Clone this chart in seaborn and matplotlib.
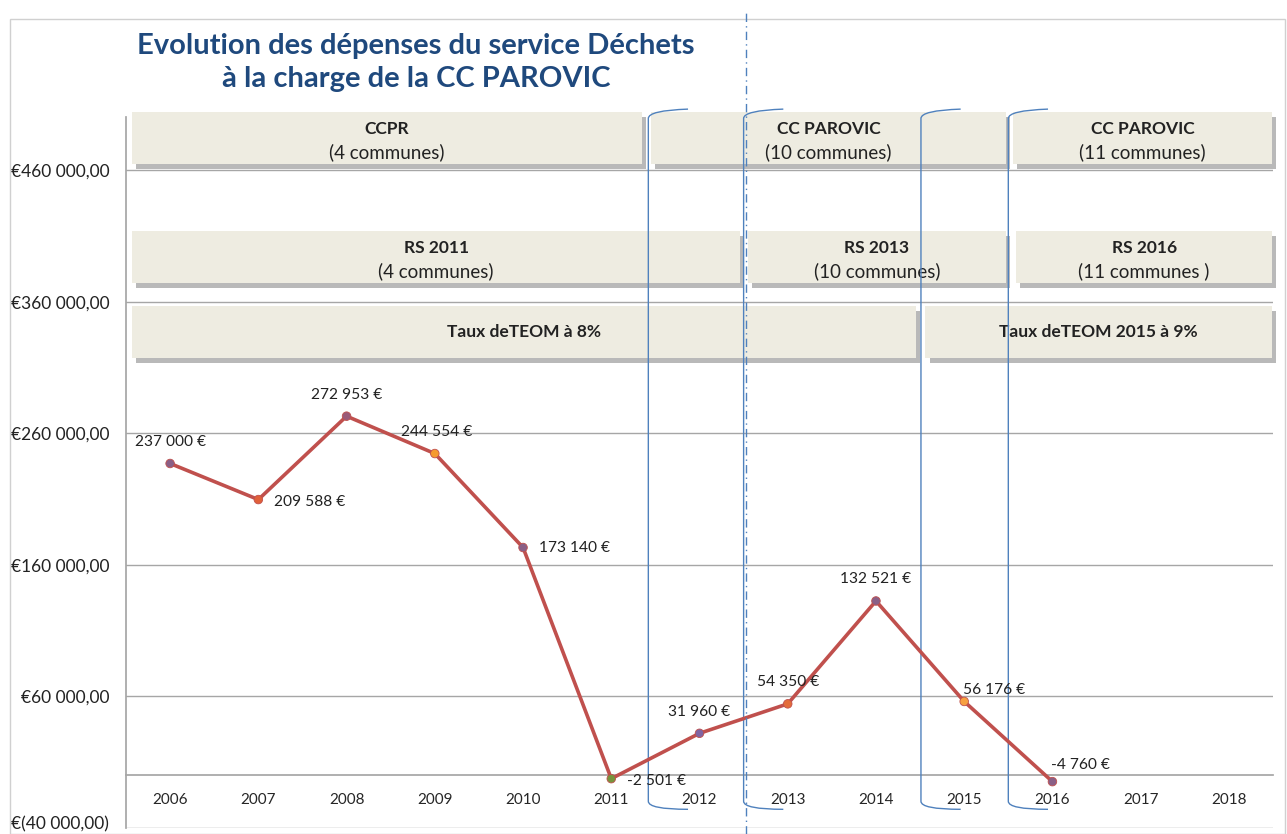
import numpy as np
import pandas as pd
import seaborn as sns
import matplotlib.pyplot as plt
from matplotlib.patches import Rectangle, PathPatch
from matplotlib.path import Path
from matplotlib.lines import Line2D
import matplotlib.patheffects as pe
import matplotlib.transforms as mtransforms

# --- data ---
years = [str(y) for y in range(2006, 2019)]
values = [237000, 209588, 272953, 244554, 173140, -2501, 31960, 54350, 132521, 56176, -4760]
point_labels = ["237 000 €", "209 588 €", "272 953 €", "244 554 €", "173 140 €", "-2 501 €",
                "31 960 €", "54 350 €", "132 521 €", "56 176 €", "-4 760 €"]
ytick_values = [-40000, 60000, 160000, 260000, 360000, 460000]
ytick_labels = ["€(40 000,00)", "€60 000,00", "€160 000,00", "€260 000,00", "€360 000,00", "€460 000,00"]

row1_titles = ["CCPR", "CC PAROVIC", "CC PAROVIC"]
row1_subs = ["(4 communes)", "(10 communes)", "(11 communes)"]
row2_titles = ["RS 2011", "RS 2013", "RS 2016"]
row2_subs = ["(4 communes)", "(10 communes)", "(11 communes )"]
row3_titles = ["Taux deTEOM à 8%", "Taux deTEOM 2015 à 9%"]

# --- styling ---
line_color = "#C0504D"
marker_colors = ["#8A5F86", "#E0603A", "#9A5A78", "#F59A2E", "#8A5F86", "#77933C",
                 "#8064A2", "#E36C3A", "#8A5F86", "#F7A040", "#8A5F86"]
# label offsets in pixels (dx, dy, ha)
label_offsets = [(0, 21, "center"), (16, -2, "left"), (0, 21, "center"), (2, 22, "center"),
                 (16, 0, "left"), (16, -2, "left"), (0, 21, "center"), (0, 22, "center"),
                 (0, 22, "center"), (-1, 11, "left"), (-1, 17, "left")]
box_face = "#EEECE1"
blue = "#4F81BD"
grid_c = "#A6A6A6"
txt_c = "#222222"

sns.set_theme(style="white")
plt.rcParams["font.family"] = ["Lato", "DejaVu Sans"]

fig = plt.figure(figsize=(12.87, 8.34), dpi=100)
ax = fig.add_axes([126 / 1287, 6 / 834, 1147 / 1287, 710.6 / 834])

df = pd.DataFrame({"pos": np.arange(len(values)), "value": values})
sns.lineplot(data=df, x="pos", y="value", color=line_color, lw=2.6, ax=ax, zorder=4)
sns.scatterplot(data=df, x="pos", y="value", hue="pos", palette=marker_colors, s=38,
                edgecolor=line_color, linewidth=0.6, legend=False, ax=ax, zorder=5)

for i, (v, lab) in enumerate(zip(values, point_labels)):
    dx, dy, ha = label_offsets[i]
    ax.annotate(lab, (i, v), xytext=(dx, dy), textcoords="offset pixels",
                ha=ha, va="center", fontsize=11.2, color=txt_c, zorder=6)

ax.set_xlim(-0.5, 12.5)
ax.set_ylim(-40000, 500000)
ax.set_yticks(ytick_values)
ax.set_yticklabels(ytick_labels, fontsize=12.5, color=txt_c)
ax.set_xticks(range(len(years)))
ax.set_xticklabels(years, fontsize=11.2, color=txt_c)
ax.set_xticks(np.arange(0.5, 13, 1), minor=True)
ax.tick_params(axis="x", which="major", length=0, pad=13)
ax.tick_params(axis="x", which="minor", length=5, color=grid_c, width=1, direction="out")
ax.tick_params(axis="y", length=0, pad=12)
ax.set_xlabel("")
ax.set_ylabel("")
ax.yaxis.grid(True, color=grid_c, lw=1)
ax.xaxis.grid(False)
ax.set_axisbelow(True)
for s in ["top", "right"]:
    ax.spines[s].set_visible(False)
ax.spines["left"].set_color(grid_c)
ax.spines["bottom"].set_color(grid_c)
ax.spines["bottom"].set_position(("data", 0))

# lift the lowest y label a little so it stays inside the picture
low = ax.get_yticklabels()[0]
low.set_transform(low.get_transform() + mtransforms.ScaledTranslation(0, 5 / 100, fig.dpi_scale_trans))

# --- annotation boxes ---
px = 100000 / 131.6  # data units per pixel (vertical)


def draw_box(x0, x1, top, bottom, title, sub=None):
    r = Rectangle((x0, bottom), x1 - x0, top - bottom, fc=box_face, ec="none",
                  clip_on=False, zorder=2,
                  path_effects=[pe.withSimplePatchShadow(offset=(3, -3), shadow_rgbFace="#808080", alpha=0.55)])
    ax.add_patch(r)
    xc = (x0 + x1) / 2
    if sub is None:
        ax.text(xc, (top + bottom) / 2, title, ha="center", va="center", fontsize=12.5,
                fontweight="bold", color=txt_c, zorder=3, clip_on=False)
    else:
        ax.text(xc, top - 17 * px, title, ha="center", va="center", fontsize=12.5,
                fontweight="bold", color=txt_c, zorder=3, clip_on=False)
        ax.text(xc, top - 40 * px, sub, ha="center", va="center", fontsize=13.5,
                color=txt_c, zorder=3, clip_on=False)


row1_x = [(-0.43, 5.35), (5.45, 9.47), (9.55, 12.49)]
row2_x = [(-0.43, 6.46), (6.55, 9.47), (9.59, 12.49)]
row3_x = [(-0.43, 8.45), (8.56, 12.49)]
for (x0, x1), t, s in zip(row1_x, row1_titles, row1_subs):
    draw_box(x0, x1, 503800, 464300, t, s)
for (x0, x1), t, s in zip(row2_x, row2_titles, row2_subs):
    draw_box(x0, x1, 413400, 373900, t, s)
for (x0, x1), t in zip(row3_x, row3_titles):
    draw_box(x0, x1, 356400, 316900, t)

# --- period brackets ---
bracket_x = [5.42, 6.50, 8.51, 9.50]
yt, yb = 505300, -25800
for bx in bracket_x:
    verts = [(bx + 0.45, yt + 1000), (bx, yt), (bx, yt - 8 * px),
             (bx, yb + 8 * px), (bx, yb), (bx + 0.45, yb)]
    codes = [Path.MOVETO, Path.CURVE3, Path.CURVE3, Path.LINETO, Path.CURVE3, Path.CURVE3]
    ax.add_patch(PathPatch(Path(verts, codes), fc="none", ec=blue, lw=1, clip_on=False, zorder=3.5))

trans = mtransforms.blended_transform_factory(ax.transData, fig.transFigure)
fig.add_artist(Line2D([6.53, 6.53], [0, 1 - 12 / 834], transform=trans, color=blue, lw=1,
                      linestyle=(0, (6, 3, 1, 3)), zorder=3.5))

# chart frame
fig.add_artist(Rectangle((10 / 1287, 0), 1275 / 1287, 1 - 19 / 834, transform=fig.transFigure,
                         fill=False, ec="#D0D0D0", lw=1))

# title
title_c = "#1F497D"
fig.text(416 / 1287, 1 - 46 / 834, "Evolution des dépenses du service Déchets", ha="center", va="center",
         fontsize=21, fontweight="bold", color=title_c)
fig.text(416 / 1287, 1 - 79 / 834, "à la charge de la CC PAROVIC", ha="center", va="center",
         fontsize=21, fontweight="bold", color=title_c)

fig.savefig("out.png", dpi=100)
